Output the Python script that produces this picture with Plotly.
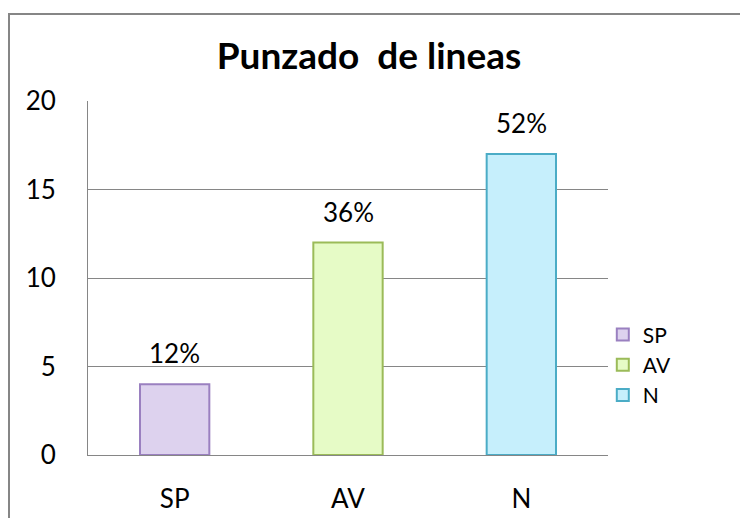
import plotly.graph_objects as go

categories = ["SP", "AV", "N"]
values = [4, 12, 17]
labels = ["12%", "36%", "52%"]
fill_colors = ["#ddd2ee", "#e6fbc6", "#c6effc"]
line_colors = ["#9a80c0", "#9bbb59", "#4bacc6"]

FONT = "Lato"
W, H = 740, 510          # page has an 8px body margin
L, R, T, B = 80, 140, 93, 63
PW, PH = W - L - R, H - T - B

fig = go.Figure()
for cat, val, fc, lc in zip(categories, values, fill_colors, line_colors):
    fig.add_trace(go.Bar(
        x=[cat], y=[val], name=cat,
        marker=dict(color=fc, line=dict(color=lc, width=2)),
        width=0.4,
    ))

for cat, val, lab in zip(categories, values, labels):
    fig.add_annotation(x=cat, y=val, text=lab, showarrow=False,
                       yanchor="bottom", yshift=13,
                       font=dict(family=FONT, size=26, color="#000000"))

fig.update_layout(
    width=W, height=H,
    barmode="overlay",
    paper_bgcolor="white", plot_bgcolor="white",
    margin=dict(l=L, r=R, t=T, b=B, autoexpand=False),
    title=dict(text="<b>Punzado  de lineas</b>", x=361 / W, xanchor="center",
               y=1 - 48 / H, yanchor="middle",
               font=dict(family=FONT, size=37, color="#000000")),
    font=dict(family=FONT, size=26, color="#000000"),
    showlegend=True,
    legend=dict(x=0.99, xanchor="left", y=0.255, yanchor="middle",
                font=dict(family=FONT, size=21, color="#000000"),
                tracegroupgap=0, itemwidth=30, bgcolor="rgba(0,0,0,0)"),
    xaxis=dict(showline=True, linecolor="#868686", linewidth=1, automargin=False,
               showgrid=False, ticks="", ticklabelstandoff=21,
               tickfont=dict(family=FONT, size=26)),
    yaxis=dict(range=[0, 20], dtick=5, showgrid=True, gridcolor="#868686", gridwidth=1,
               showline=True, linecolor="#868686", linewidth=1, zeroline=False,
               automargin=False, ticks="", ticklabelstandoff=26,
               tickfont=dict(family=FONT, size=26)),
    shapes=[dict(type="rect", xref="paper", yref="paper",
                 x0=(1 - L) / PW, x1=(W + 20 - L) / PW,
                 y0=-(B + 20) / PH, y1=(PH + T - 6) / PH,
                 line=dict(color="#868686", width=2), fillcolor="rgba(0,0,0,0)",
                 layer="below")],
)

fig.write_html("out.html")
